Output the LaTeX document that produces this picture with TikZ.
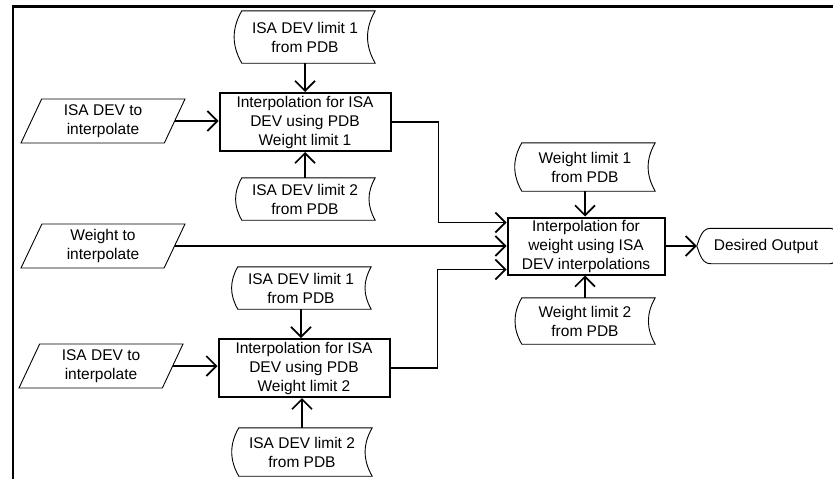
\documentclass[tikz,border=0pt]{standalone}
\usepackage{fontspec}
\setmainfont{Liberation Sans}
\usetikzlibrary{shapes.geometric}
\usetikzlibrary{arrows.meta}
\usetikzlibrary{calc}

\begin{document}
\begin{tikzpicture}[x=1pt, y=1pt,
    font=\fontsize{15.5}{19}\selectfont,
    proc/.style={draw, line width=2pt, align=center, minimum width=171, minimum height=58, inner sep=0pt},
    inbox/.style={draw, trapezium, trapezium left angle=58, trapezium right angle=122, trapezium stretches body,
        line width=0.9pt, align=center, minimum width=164, minimum height=44, inner sep=0pt},
    store/.style={align=center, minimum width=140, minimum height=46, inner sep=0pt},
    conn/.style={line width=1.7pt, -{Straight Barb[length=10pt, width=20pt]}}]
    \useasboundingbox (0,0) rectangle (833,-479);
    \draw[line width=2.4pt] (13,-479) -- (13,-6.5) -- (833,-6.5);

    % upper ISA DEV branch
    \node[store, minimum height=52] (limA) at (305,-37) {ISA DEV limit 1\\from PDB};
    \node[proc] (isaA) at (305,-122) {Interpolation for ISA\\DEV using PDB\\Weight limit 1};
    \node[store, minimum height=42] (limB) at (305,-199) {ISA DEV limit 2\\from PDB};
    \node[inbox] (devA) at (103,-121) {ISA DEV to\\interpolate};

    \node[inbox] (wIn) at (103,-246) {Weight to\\interpolate};

    % lower ISA DEV branch
    \node[store, minimum height=42] (limC) at (301,-288) {ISA DEV limit 1\\from PDB};
    \node[proc] (isaB) at (304,-368) {Interpolation for ISA\\DEV using PDB\\Weight limit 2};
    \node[store, minimum height=48] (limD) at (302,-452) {ISA DEV limit 2\\from PDB};
    \node[inbox] (devB) at (101,-366) {ISA DEV to\\interpolate};

    \node[store, minimum height=48] (wlimA) at (585,-167) {Weight limit 1\\from PDB};
    \node[proc, minimum width=157, minimum height=57] (wInt) at (586,-246) {Interpolation for\\weight using ISA\\DEV interpolations};
    \node[store] (wlimB) at (585,-321) {Weight limit 2\\from PDB};
    \node[minimum width=138, minimum height=35, inner sep=0pt] (out) at (766,-246) {Desired Output};

    \foreach \t in {limA, limB, limC, limD, wlimA, wlimB} {
        \draw[line width=0.9pt] ([xshift=7]\t.north west) -- (\t.north east) to[bend right=30] (\t.south east)
            -- ([xshift=7]\t.south west) to[bend left=30] ([xshift=7]\t.north west) -- cycle;
    }
    \draw[line width=0.9pt] (out.west) to[out=70, in=180] ([xshift=14]out.north west) -- ([xshift=-5]out.north east)
        to[out=0, in=90] (out.east) to[out=-90, in=0] ([xshift=-5]out.south east) -- ([xshift=14]out.south west)
        to[out=180, in=-70] (out.west);

    \draw[conn] (limA.south) -- (isaA.north);
    \draw[conn] (limB.north) -- (isaA.south);
    \draw[conn] (devA.east) -- (devA.east -| isaA.west);
    \draw[conn] (limC.south) -- (limC.south |- isaB.north);
    \draw[conn] (limD.north) -- (limD.north |- isaB.south);
    \draw[conn] (devB.east) -- (devB.east -| isaB.west);
    \draw[conn] (wlimA.south) -- (wlimA.south |- wInt.north);
    \draw[conn] (wlimB.north) -- (wlimB.north |- wInt.south);
    \draw[conn] (wIn.east) -- (wIn.east -| wInt.west);
    \draw[conn] (isaA.east) -- ++(47,0) |- ([yshift=-6]wInt.north west);
    \draw[conn] (isaB.east) -- ++(47,0) |- ([yshift=6]wInt.south west);
    \draw[conn] (wInt.east) -- (out.west);
\end{tikzpicture}
\end{document}
